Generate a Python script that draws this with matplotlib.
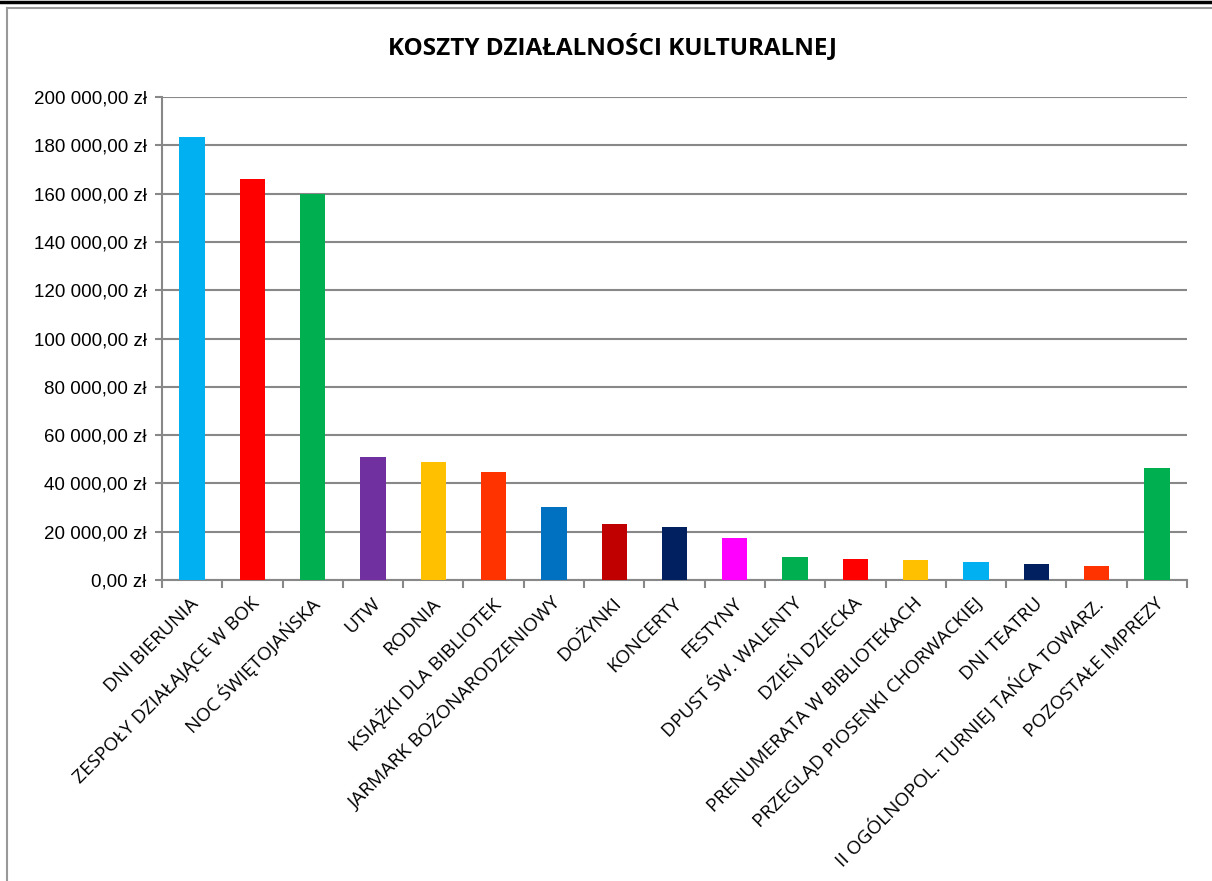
import matplotlib
matplotlib.use("Agg")
import matplotlib.pyplot as plt
import matplotlib.transforms as mtransforms
from matplotlib.ticker import FuncFormatter, MultipleLocator, FixedLocator
from matplotlib.lines import Line2D

categories = [
    "DNI BIERUNIA", "ZESPOŁY DZIAŁAJĄCE W BOK", "NOC ŚWIĘTOJAŃSKA", "UTW", "RODNIA",
    "KSIĄŻKI DLA BIBLIOTEK", "JARMARK BOŻONARODZENIOWY", "DOŻYNKI", "KONCERTY", "FESTYNY",
    "DPUST ŚW. WALENTY", "DZIEŃ DZIECKA", "PRENUMERATA W BIBLIOTEKACH",
    "PRZEGLĄD PIOSENKI CHORWACKIEJ", "DNI TEATRU", "II OGÓLNOPOL. TURNIEJ TAŃCA TOWARZ.",
    "POZOSTAŁE IMPREZY",
]
values = [183500, 166000, 160000, 51000, 48900, 44700, 30200, 23200, 22000, 17400,
          9500, 8700, 8300, 7450, 6600, 5800, 46400]
colors = ["#00B0F0", "#FF0000", "#00B050", "#7030A0", "#FFC000", "#FF3300", "#0070C0",
          "#C00000", "#002060", "#FF00FF", "#00B050", "#FF0000", "#FFC000", "#00B0F0",
          "#002060", "#FF3300", "#00B050"]
title = "KOSZTY DZIAŁALNOŚCI KULTURALNEJ"

W, H = 1212, 881
fig = plt.figure(figsize=(W / 100, H / 100), dpi=100)
ax = fig.add_axes([162 / W, 1 - 580 / H, (1187 - 162) / W, (580 - 97) / H])

x = list(range(len(categories)))
ax.bar(x, values, width=0.42, color=colors, zorder=3)
ax.set_xlim(-0.5, len(categories) - 0.5)
ax.set_ylim(0, 200000)

grid_c = "#888888"
ax.yaxis.set_major_locator(MultipleLocator(20000))
ax.grid(axis="y", color=grid_c, linewidth=1.5, zorder=0)
ax.grid(axis="x", visible=False)

def fmt(v, pos):
    s = f"{v:,.2f}".replace(",", " ").replace(".", ",")
    return s + " zł"

ax.yaxis.set_major_formatter(FuncFormatter(fmt))
for sp in ["top", "right"]:
    ax.spines[sp].set_visible(False)
for sp in ["left", "bottom"]:
    ax.spines[sp].set_color(grid_c)
    ax.spines[sp].set_linewidth(1.5)

ax.tick_params(axis="y", length=5, width=1.5, color=grid_c, labelsize=13.5, pad=6,
               labelfontfamily="Liberation Sans")
# category labels
ax.set_xticks(x)
ax.set_xticklabels(categories, rotation=45, ha="right", va="center",
                   rotation_mode="anchor", fontsize=13.8, family="Open Sans")
ax.tick_params(axis="x", which="major", length=0, pad=15)
offset = mtransforms.ScaledTranslation(4 / 100, 0, fig.dpi_scale_trans)
for lbl in ax.get_xticklabels():
    lbl.set_transform(lbl.get_transform() + offset)
ax.xaxis.set_minor_locator(FixedLocator([i - 0.5 for i in range(len(categories) + 1)]))
ax.tick_params(axis="x", which="minor", length=6, width=1.5, color=grid_c)

fig.text(612 / W, 1 - 47 / H, title, ha="center", va="center", fontsize=17.5,
         fontweight="bold", family="Open Sans")

# outer frame lines
fig.add_artist(Line2D([0, 1], [1 - 2 / H, 1 - 2 / H], color="black", linewidth=2.5,
                      transform=fig.transFigure))
fig.add_artist(Line2D([7 / W, 1], [1 - 8 / H, 1 - 8 / H], color="#999999", linewidth=1.5,
                      transform=fig.transFigure))
fig.add_artist(Line2D([7 / W, 7 / W], [0, 1 - 8 / H], color="#999999", linewidth=1.5,
                      transform=fig.transFigure))

fig.savefig("out.png", dpi=100)
